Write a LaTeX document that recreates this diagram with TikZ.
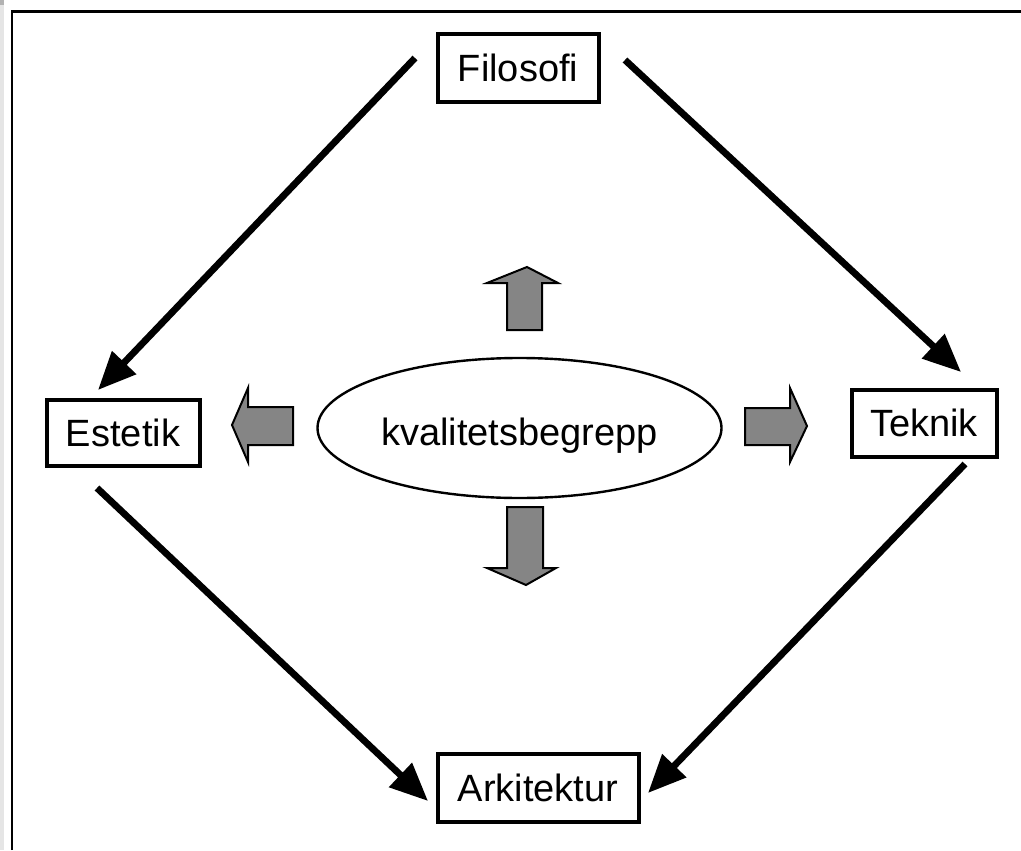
\documentclass[tikz,border=0pt]{standalone}
\usepackage{fontspec}
\setmainfont{Liberation Sans}
\usetikzlibrary{arrows.meta,shapes.geometric}
\begin{document}
\begin{tikzpicture}[x=0.5pt,y=-0.5pt,
  box/.style={draw=black,line width=2pt,fill=white,inner sep=0pt,font=\fontsize{19pt}{22pt}\selectfont},
  conn/.style={line width=3.4pt,-{Triangle[length=19pt,width=16pt]}},
  garrow/.style={draw=black,line width=1pt,fill=black!48,line join=miter}]
\useasboundingbox (0,0) rectangle (1021,850);
\fill[white] (0,0) rectangle (1021,850);
\fill[gray!20] (0,0) rectangle (4,850);
\fill[gray!60] (0,0) rectangle (4,5);
\draw[line width=1.4pt] (12,850) -- (12,11.5) -- (1021,11.5);
% boxes
\node[box,minimum width=80.5pt,minimum height=34pt] (fil) at (518,68) {Filosofi};
\node[box,minimum width=76.5pt,minimum height=33pt] (est) at (123,433) {Estetik};
\node[box,minimum width=72.5pt,minimum height=33.5pt] (tek) at (924,423) {Teknik};
\node[box,minimum width=100.5pt,minimum height=34pt] (ark) at (538,788) {Arkitektur};
\node[ellipse,draw=black,line width=1.2pt,minimum width=202pt,minimum height=70pt,inner sep=0pt] (kv) at (519.5,428) {};
\node[inner sep=0pt,font=\fontsize{19pt}{22pt}\selectfont] (kvt) at (519.5,436) {kvalitetsbegrepp};
% connector ends
\coordinate (f1) at (415,58);
\coordinate (e1) at (98,390);
\coordinate (f2) at (625,60);
\coordinate (t1) at (961,372);
\coordinate (e2) at (97,488);
\coordinate (a1) at (428,801);
\coordinate (t2) at (965,464);
\coordinate (a2) at (648,793);
\draw[conn] (f1) -- (e1);
\draw[conn] (f2) -- (t1);
\draw[conn] (e2) -- (a1);
\draw[conn] (t2) -- (a2);
% grey block arrows
\draw[garrow] (232,425) -- (248,388) -- (248,407) -- (293,407) -- (293,445) -- (248,445) -- (248,462) -- cycle;
\draw[garrow] (807,426) -- (790,388) -- (790,408) -- (745,408) -- (745,445) -- (790,445) -- (790,462) -- cycle;
\draw[garrow] (527,267) -- (558,283) -- (542,283) -- (542,330) -- (507,330) -- (507,283) -- (487,283) -- cycle;
\draw[garrow] (526,585) -- (556,568) -- (543,568) -- (543,507) -- (507,507) -- (507,568) -- (487,568) -- cycle;
\end{tikzpicture}
\end{document}
